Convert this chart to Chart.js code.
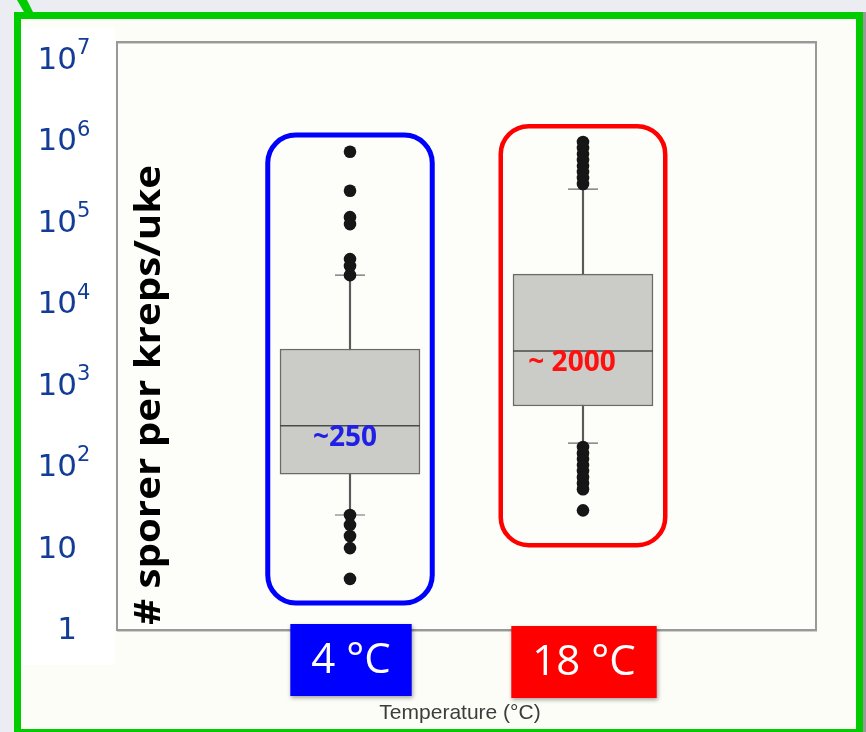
<!DOCTYPE html>
<html>
<head>
<meta charset="utf-8">
<script src="https://cdn.jsdelivr.net/npm/chart.js@4.4.0/dist/chart.umd.min.js"></script>
<style>
  html, body { margin: 0; padding: 0; background: #ecedf3; overflow: hidden; }
  #wrap { width: 866px; height: 732px; position: relative; }
</style>
</head>
<body>
<div id="wrap"><canvas id="grafico"></canvas></div>
<script>
// categorias e valores (escala log)
const categorias = ["4 °C", "18 °C"];
const q1 = [75, 515];
const mediana = [295, 2435];
const q3 = [2580, 21400];
const bigodeMin = [23.7, 181];
const bigodeMax = [20800, 237000];
const outliers4 = [679000, 226000, 107000, 88000, 32700, 26900, 20800, 23.7, 17.9, 13.1, 9.3, 3.9];
const outliers18 = [893000, 754000, 636000, 537000, 453000, 383000, 323000, 273000,
  162, 136, 115, 97, 82, 69, 58, 49, 27];
const rotulosMediana = ["~250", "~ 2000"];
const coresDestaque = ["#0000ff", "#ff0000"];
const molduraTopo = [1.09e6, 1.4e6];
const molduraBase = [1.97, 10.1];
const ticksY = [1, 10, 100, 1e3, 1e4, 1e5, 1e6, 1e7];
const ticksBase = ["1", "10", "10", "10", "10", "10", "10", "10"];
const ticksExpoente = ["", "", "2", "3", "4", "5", "6", "7"];
const tituloY = "# sporer per kreps/uke";
const tituloX = "Temperature (°C)";

const eixoX = ["", ...categorias, ""];
const porCategoria = (arr) => [null, ...arr, null];

const graficoCanvas = document.getElementById("grafico");

const fundoPlugin = {
  id: "fundo",
  beforeDraw(chart) {
    const ctx = chart.ctx;
    const a = chart.chartArea;
    ctx.save();
    ctx.fillStyle = "#ecedf3";
    ctx.fillRect(0, 0, 866, 732);
    ctx.fillStyle = "#9a9a9a";
    ctx.fillRect(862, 12, 4, 720);
    // moldura verde
    ctx.fillStyle = "#00cc00";
    ctx.fillRect(14, 12, 849, 720);
    ctx.fillStyle = "#fdfdf8";
    ctx.fillRect(21, 19, 835, 710);
    ctx.fillStyle = "#ffffff";
    ctx.fillRect(21, 28, 94, 637);
    // ponta de seta
    ctx.fillStyle = "#00cc00";
    ctx.beginPath();
    ctx.moveTo(17, 0);
    ctx.lineTo(27, 0);
    ctx.lineTo(33, 12);
    ctx.lineTo(24, 12);
    ctx.closePath();
    ctx.fill();
    // área do gráfico
    ctx.fillStyle = "#fdfdf9";
    ctx.fillRect(a.left, a.top, a.right - a.left, a.bottom - a.top);
    ctx.strokeStyle = "#d0d0d0";
    ctx.lineWidth = 1;
    ctx.strokeRect(a.left + 0.5, a.top + 1.5, a.right - a.left, a.bottom - a.top);
    ctx.strokeStyle = "#999999";
    ctx.lineWidth = 2;
    ctx.strokeRect(a.left, a.top, a.right - a.left, a.bottom - a.top);
    ctx.restore();
  },
};

const anotacoesPlugin = {
  id: "anotacoes",
  afterDraw(chart) {
    const ctx = chart.ctx;
    const x = chart.scales.x;
    const y = chart.scales.y;
    ctx.save();

    // molduras arredondadas
    categorias.forEach((c, i) => {
      const l = x.getPixelForValue(i + 1 - 0.353);
      const r = x.getPixelForValue(i + 1 + 0.353);
      const t = y.getPixelForValue(molduraTopo[i]);
      const b = y.getPixelForValue(molduraBase[i]);
      ctx.strokeStyle = coresDestaque[i];
      ctx.lineWidth = i === 0 ? 5 : 4.5;
      ctx.beginPath();
      ctx.roundRect(l, t, r - l, b - t, 28);
      ctx.stroke();
    });

    // rótulos das medianas
    ctx.font = "bold 28px 'Open Sans'";
    ctx.textAlign = "center";
    ctx.textBaseline = "top";
    categorias.forEach((c, i) => {
      const cx = x.getPixelForValue(i + 1) - (i === 0 ? 5 : 11);
      const cy = y.getPixelForValue(mediana[i]) - 2;
      ctx.fillStyle = i === 0 ? "#1f1fe6" : "#ff1010";
      ctx.fillText(rotulosMediana[i], cx, cy);
    });

    // ticks do eixo y
    ctx.fillStyle = "#123c96";
    ctx.textBaseline = "middle";
    ticksY.forEach((v, i) => {
      const py = y.getPixelForValue(v);
      ctx.font = "31px 'DejaVu Sans'";
      ctx.textAlign = "right";
      ctx.fillText(ticksBase[i], 77, py + 4);
      if (ticksExpoente[i]) {
        ctx.font = "21px 'DejaVu Sans'";
        ctx.textAlign = "left";
        ctx.fillText(ticksExpoente[i], 77, py - 8);
      }
    });

    // título do eixo y (dentro da área)
    ctx.save();
    ctx.translate(160, 395);
    ctx.rotate(-Math.PI / 2);
    ctx.font = "bold 35px 'Open Sans'";
    const largura = ctx.measureText(tituloY).width;
    ctx.scale(460 / largura, 1);
    ctx.fillStyle = "#000000";
    ctx.textAlign = "center";
    ctx.textBaseline = "alphabetic";
    ctx.fillText(tituloY, 0, 0);
    ctx.restore();

    // rótulos das categorias em caixas coloridas
    ctx.font = "42px 'Open Sans'";
    ctx.textAlign = "center";
    ctx.textBaseline = "middle";
    categorias.forEach((c, i) => {
      const cx = x.getPixelForValue(i + 1);
      const w = ctx.measureText(c).width + 42;
      const top = i === 0 ? 624 : 626;
      ctx.save();
      ctx.shadowColor = "rgba(0,0,0,0.35)";
      ctx.shadowBlur = 4;
      ctx.shadowOffsetX = 1;
      ctx.shadowOffsetY = 2;
      ctx.fillStyle = coresDestaque[i];
      ctx.fillRect(cx - w / 2 + 1, top, w, 72);
      ctx.restore();
      ctx.fillStyle = "#ffffff";
      ctx.fillText(c, cx + 1, top + 37);
    });

    // título do eixo x
    ctx.font = "21px 'Liberation Sans'";
    ctx.fillStyle = "#3c3c3c";
    ctx.fillText(tituloX, 460, 713);

    ctx.restore();
  },
};

const chart = new Chart(graficoCanvas.getContext("2d"), {
  type: "bar",
  data: {
    labels: eixoX,
    datasets: [
      {
        label: "bigode",
        data: porCategoria(categorias.map((c, i) => [bigodeMin[i], bigodeMax[i]])),
        backgroundColor: "#5a5a5a",
        barThickness: 1.5,
        grouped: false,
        order: 5,
      },
      {
        label: "caixa",
        data: porCategoria(categorias.map((c, i) => [q1[i], q3[i]])),
        backgroundColor: "#cbcbc7",
        borderColor: "#6a6a6a",
        borderWidth: 1.5,
        borderSkipped: false,
        barThickness: 140,
        grouped: false,
        order: 4,
      },
      {
        type: "scatter",
        label: "mediana",
        data: categorias.map((c, i) => ({ x: c, y: mediana[i] })),
        pointStyle: "line",
        pointRadius: 70,
        borderColor: "#4a4a4a",
        borderWidth: 1.5,
        order: 3,
      },
      {
        type: "scatter",
        label: "limites",
        data: categorias.flatMap((c, i) => [
          { x: c, y: bigodeMin[i] },
          { x: c, y: bigodeMax[i] },
        ]),
        pointStyle: "line",
        pointRadius: 15,
        borderColor: "#6a6a6a",
        borderWidth: 1.2,
        order: 2,
      },
      {
        type: "scatter",
        label: "outliers",
        data: [
          ...outliers4.map((v) => ({ x: categorias[0], y: v })),
          ...outliers18.map((v) => ({ x: categorias[1], y: v })),
        ],
        pointRadius: 6.3,
        backgroundColor: "#161616",
        borderColor: "#161616",
        borderWidth: 0,
        order: 1,
      },
    ],
  },
  options: {
    responsive: true,
    maintainAspectRatio: false,
    animation: false,
    events: [],
    layout: {
      autoPadding: false,
      padding: { left: 117, top: 42, right: 50, bottom: 102 },
    },
    plugins: {
      legend: { display: false },
      tooltip: { enabled: false },
    },
    scales: {
      x: { type: "category", offset: false, display: false },
      y: { type: "logarithmic", min: 0.919, max: 1.51e7, display: false },
    },
  },
  plugins: [fundoPlugin, anotacoesPlugin],
});
</script>
</body>
</html>
